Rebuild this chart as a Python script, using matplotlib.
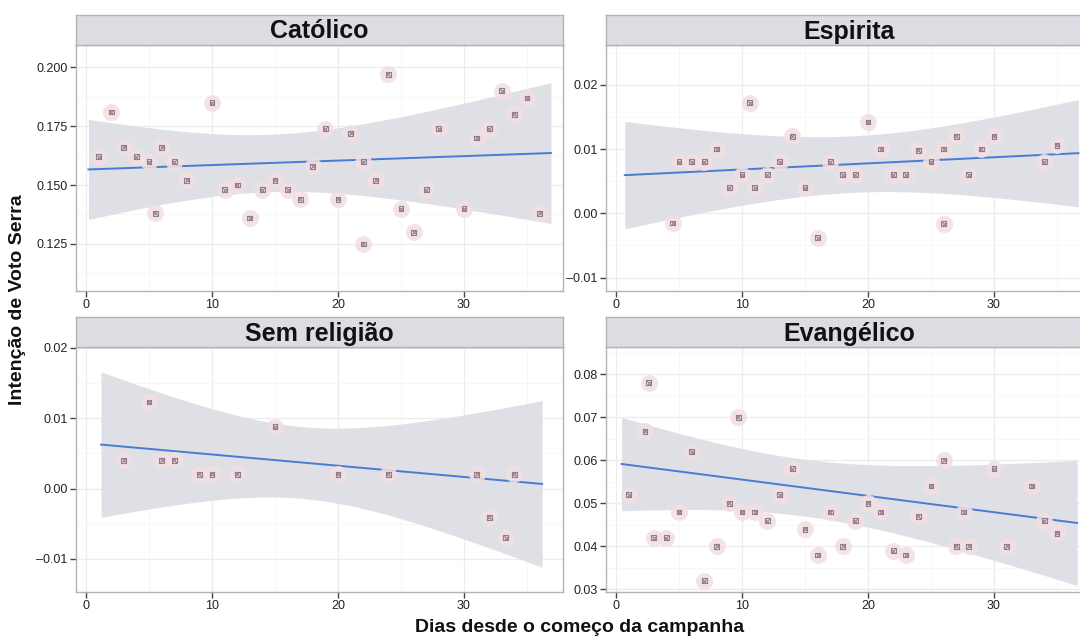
import matplotlib
matplotlib.use("Agg")
import matplotlib.pyplot as plt
from matplotlib.ticker import MultipleLocator, FuncFormatter
import numpy as np

plt.rcParams['font.family'] = ['Liberation Sans', 'DejaVu Sans']

# intenção de voto em Serra por religião, dia a dia
catolico_dias = [1, 2, 3, 4, 5, 5.5, 6, 7, 8, 10, 11, 12, 13, 14, 15, 16, 17, 18,
                 19, 20, 21, 22, 22, 23, 24, 25, 26, 27, 28, 30, 31, 32, 33, 34, 35, 36]
catolico_voto = [0.162, 0.181, 0.166, 0.162, 0.160, 0.138, 0.166, 0.160, 0.152, 0.185,
                 0.148, 0.150, 0.136, 0.148, 0.152, 0.148, 0.144, 0.158, 0.174, 0.144,
                 0.172, 0.160, 0.125, 0.152, 0.197, 0.140, 0.130, 0.148, 0.174, 0.140,
                 0.170, 0.174, 0.190, 0.180, 0.187, 0.138]

espirita_dias = [4.5, 5, 6, 7, 8, 9, 10, 10.6, 11, 12, 13, 14, 15, 16, 17, 18, 19, 20,
                 21, 22, 23, 24, 25, 26, 26, 27, 28, 29, 30, 34, 35]
espirita_voto = [-0.0015, 0.008, 0.008, 0.008, 0.010, 0.004, 0.006, 0.0172, 0.004, 0.006,
                 0.008, 0.012, 0.004, -0.0038, 0.008, 0.006, 0.006, 0.0142, 0.010, 0.006,
                 0.006, 0.0098, 0.008, 0.010, -0.0016, 0.012, 0.006, 0.010, 0.012, 0.008,
                 0.0106]

semrel_dias = [3, 5, 6, 7, 9, 10, 12, 15, 20, 24, 31, 32, 33.3, 34]
semrel_voto = [0.004, 0.0123, 0.004, 0.004, 0.002, 0.002, 0.002, 0.0088, 0.002, 0.002,
               0.002, -0.0041, -0.007, 0.002]

evangelico_dias = [1, 2.3, 2.6, 3, 4, 5, 6, 7, 8, 9, 9.7, 10, 11, 12, 13, 14, 15, 16,
                   17, 18, 19, 20, 21, 22, 23, 24, 25, 26, 27, 27.6, 28, 30, 31, 33, 34, 35]
evangelico_voto = [0.052, 0.0667, 0.078, 0.042, 0.042, 0.048, 0.062, 0.032, 0.040, 0.050,
                   0.070, 0.048, 0.048, 0.046, 0.052, 0.058, 0.044, 0.038, 0.048, 0.040,
                   0.046, 0.050, 0.048, 0.039, 0.038, 0.047, 0.054, 0.060, 0.040, 0.048,
                   0.040, 0.058, 0.040, 0.054, 0.046, 0.043]

paineis = ["Católico", "Espirita", "Sem religião", "Evangélico"]
dados = [(catolico_dias, catolico_voto), (espirita_dias, espirita_voto),
         (semrel_dias, semrel_voto), (evangelico_dias, evangelico_voto)]

# reta de tendência (lm) e intervalo de confiança de cada painel
reta_intercepto = [0.1566, 0.00587, 0.00643, 0.05930]
reta_inclinacao = [0.000190, 0.0000951, -0.0001597, -0.000379]
ajuste_inicio = [0.2, 0.7, 1.2, 0.45]
ajuste_fim = [36.9, 36.7, 36.2, 36.6]
ic_centro = [14.5, 18.7, 17.2, 14.9]
ic_meia_min = [0.0122, 0.0044, 0.0051, 0.0066]
ic_curvatura = [1.49e-6, 1.56e-7, 3.16e-7, 3.56e-7]

y_limites = [(0.105, 0.2095), (-0.0121, 0.0262), (-0.0147, 0.0201), (0.0294, 0.0863)]
y_passo = [0.025, 0.01, 0.01, 0.01]
y_casas = [3, 2, 2, 2]

W, H = 1080, 637
fig = plt.figure(figsize=(W / 100, H / 100), dpi=100)

# posições em pixels: (esquerda, topo do painel, base do painel)
largura = 487
posicoes = [(76, 45, 291), (606, 45, 291), (76, 347, 592), (606, 347, 592)]
faixa_alt = 30

borda = '#b3b3b3'
for i, (nome, (dias, voto)) in enumerate(zip(paineis, dados)):
    esq, topo, base = posicoes[i]
    ax = fig.add_axes([esq / W, 1 - base / H, largura / W, (base - topo) / H])
    ax.set_facecolor('white')

    grade = np.linspace(ajuste_inicio[i], ajuste_fim[i], 200)
    pred = reta_intercepto[i] + reta_inclinacao[i] * grade
    meia = np.sqrt(ic_meia_min[i]**2 + ic_curvatura[i] * (grade - ic_centro[i])**2)
    ax.fill_between(grade, pred - meia, pred + meia, color='#dfe0e5', lw=0, zorder=2)
    ax.plot(grade, pred, color='#4a7bd3', lw=1.4, zorder=3)
    ax.scatter(dias, voto, s=150, color='#f3dfe2', lw=0, alpha=0.85, zorder=4)
    ax.scatter(dias, voto, s=12, marker='s', facecolor='none',
               edgecolor='#8a8290', lw=0.8, zorder=5)
    ax.scatter(dias, voto, s=10, marker='x', color='#9b7a8a', lw=0.8, zorder=6)

    ax.set_xlim(-0.79, 37.86)
    ax.set_ylim(*y_limites[i])
    ax.xaxis.set_major_locator(MultipleLocator(10))
    ax.xaxis.set_minor_locator(MultipleLocator(5))
    ax.yaxis.set_major_locator(MultipleLocator(y_passo[i]))
    ax.yaxis.set_minor_locator(MultipleLocator(y_passo[i] / 2))
    casas = y_casas[i]
    ax.yaxis.set_major_formatter(
        FuncFormatter(lambda v, p, c=casas: f"{v:.{c}f}".replace('-', '\u2013')))
    ax.grid(which='major', color='#ececec', lw=0.9, zorder=0)
    ax.grid(which='minor', color='#f6f6f6', lw=0.6, zorder=0)
    ax.set_axisbelow(True)
    for sp in ax.spines.values():
        sp.set_color(borda)
        sp.set_linewidth(1.0)
    ax.tick_params(which='major', direction='out', length=4, width=1,
                   color='#444444', labelsize=9, labelcolor='#222222', pad=2)
    ax.tick_params(which='minor', length=0)

    # faixa com o nome do grupo
    faixa = fig.add_axes([esq / W, 1 - topo / H, largura / W, faixa_alt / H])
    faixa.set_facecolor('#dcdde2')
    faixa.set_xticks([])
    faixa.set_yticks([])
    for sp in faixa.spines.values():
        sp.set_color(borda)
        sp.set_linewidth(1.0)
    faixa.text(0.5, 0.45, nome, ha='center', va='center', fontsize=18,
               fontweight='bold', color='#111111', transform=faixa.transAxes)

fig.text(580 / W, 1 - 628 / H, "Dias desde o começo da campanha", ha='center',
         va='center', fontsize=14, fontweight='bold', color='#111111')
fig.text(18 / W, 1 - 300 / H, "Intenção de Voto Serra", ha='center', va='center',
         rotation=90, fontsize=14, fontweight='bold', color='#111111')

fig.savefig("out.png", dpi=100)
